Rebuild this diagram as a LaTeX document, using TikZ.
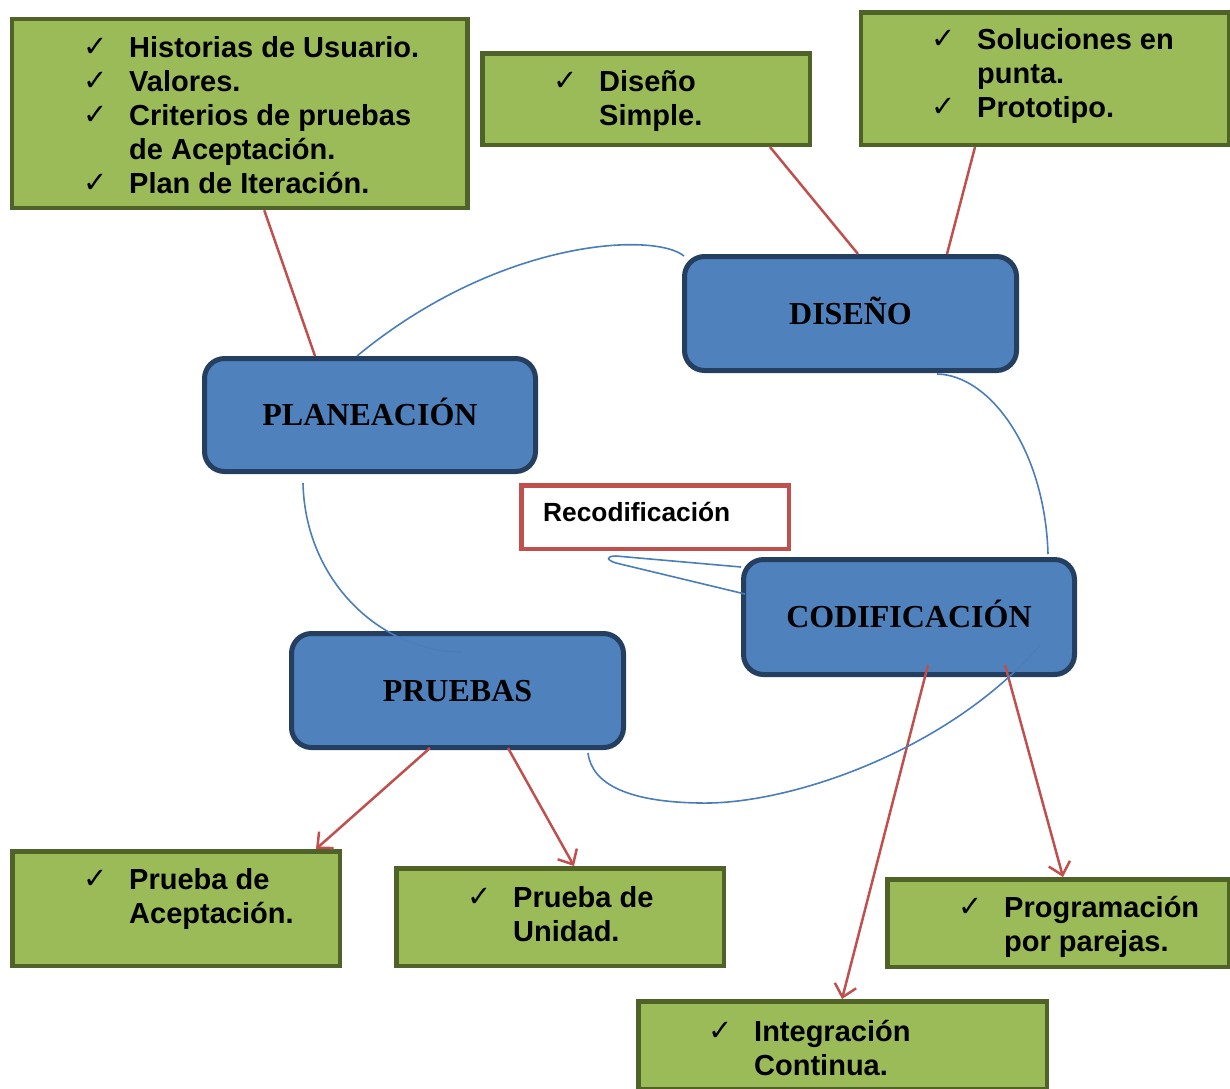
\documentclass[tikz,border=0pt]{standalone}
\usepackage{fontspec}
\setmainfont{Liberation Sans}
\newfontfamily\tnr{Liberation Serif}
\newfontfamily\djv{DejaVu Sans}
\usetikzlibrary{arrows.meta,calc}
\definecolor{gfill}{HTML}{9BBB59}
\definecolor{gline}{HTML}{4F6228}
\definecolor{bfill}{HTML}{4F81BD}
\definecolor{bline}{HTML}{243F60}
\definecolor{redl}{HTML}{C0504D}
\definecolor{bluel}{HTML}{4A7EBB}
\newcommand\ck{\makebox[46pt][l]{\djv\mdseries\fontsize{29}{29}\selectfont\raisebox{1pt}{✓}}}
\begin{document}
\begin{tikzpicture}[x=1pt,y=-1pt,
  gbox/.style={draw=gline,fill=gfill,line width=4.5pt,inner sep=0pt},
  bbox/.style={draw=bline,fill=bfill,line width=5pt,rounded corners=20pt,inner sep=0pt,
    font=\tnr\bfseries\fontsize{32}{32}\selectfont,text height=21pt,text depth=0pt},
  rbox/.style={draw=redl,fill=white,line width=4.5pt,inner sep=0pt},
  txt/.style={inner sep=0pt,font=\bfseries\fontsize{29}{34}\selectfont,anchor=base west},
  redline/.style={draw=redl,line width=2.5pt},
  redarrow/.style={redline,-{Straight Barb[length=12pt,width=22pt]}},
  blueline/.style={draw=bluel,line width=1.6pt}]
\useasboundingbox (0,0) rectangle (1230,1088);

% green boxes
\node[gbox,minimum width=455.5pt,minimum height=189pt] (g1) at (239.75,113.5) {};
\node[gbox,minimum width=327.5pt,minimum height=91.5pt] (g2) at (646,99) {};
\node[gbox,minimum width=368pt,minimum height=132.5pt] (g3) at (1045,78.5) {};
\node[gbox,minimum width=327.5pt,minimum height=114.5pt] (g4) at (176,908.5) {};
\node[gbox,minimum width=327.5pt,minimum height=97.5pt] (g5) at (560,917) {};
\node[gbox,minimum width=341.5pt,minimum height=87.5pt] (g6) at (1058,923) {};
\node[gbox,minimum width=408.5pt,minimum height=87.5pt] (g7) at (842.5,1045) {};

% green box texts
\node[txt] (t1) at (83,57) {\begin{tabular}[t]{@{}l@{}l@{}}
\ck & Historias de Usuario.\\
\ck & Valores.\\
\ck & Criterios de pruebas\\
 & de Aceptación.\\
\ck & Plan de Iteración.\end{tabular}};
\node[txt] (t2) at (553,91) {\begin{tabular}[t]{@{}l@{}l@{}}
\ck & Diseño\\
 & Simple.\end{tabular}};
\node[txt] (t3) at (931,49) {\begin{tabular}[t]{@{}l@{}l@{}}
\ck & Soluciones en\\
 & punta.\\
\ck & Prototipo.\end{tabular}};
\node[txt] (t4) at (83,889) {\begin{tabular}[t]{@{}l@{}l@{}}
\ck & Prueba de\\
 & Aceptación.\end{tabular}};
\node[txt] (t5) at (467,907) {\begin{tabular}[t]{@{}l@{}l@{}}
\ck & Prueba de\\
 & Unidad.\end{tabular}};
\node[txt] (t6) at (958,917) {\begin{tabular}[t]{@{}l@{}l@{}}
\ck & Programación\\
 & por parejas.\end{tabular}};
\node[txt] (t7) at (708,1041) {\begin{tabular}[t]{@{}l@{}l@{}}
\ck & Integración\\
 & Continua.\end{tabular}};

% blue boxes
\node[bbox,minimum width=331pt,minimum height=113pt] (plan) at (370,415) {PLANEACIÓN};
\node[bbox,minimum width=332pt,minimum height=114pt] (dis) at (850.5,313.5) {DISEÑO};
\node[bbox,minimum width=331pt,minimum height=115pt] (cod) at (909,617) {CODIFICACIÓN};
\node[bbox,minimum width=332pt,minimum height=114pt] (pru) at (457.5,690.5) {PRUEBAS};

% recodificacion box
\node[rbox,minimum width=267.5pt,minimum height=63.5pt] (rec) at (655,517) {};
\node[inner sep=0pt,anchor=base west,font=\bfseries\fontsize{26.3}{26.3}\selectfont] (rect) at (543,521) {Recodificación};

% red lines
\draw[redline] ([xshift=24.5pt]g1.south) -- ([xshift=-55pt]plan.north);
\draw[redline] ([xshift=124pt]g2.south) -- ([xshift=7.5pt]dis.north);
\draw[redline] ([xshift=-70pt]g3.south) -- ([xshift=96.5pt]dis.north);

% red arrows
\draw[redarrow] ([xshift=-27.5pt,yshift=2pt]pru.south) -- ([xshift=140pt]g4.north);
\draw[redarrow] ([xshift=50.5pt,yshift=2pt]pru.south) -- ([xshift=14pt]g5.north);
\draw[redarrow] ([xshift=19pt,yshift=12pt]cod.south) -- ([xshift=-0.5pt]g7.north);
\draw[redarrow] ([xshift=96pt,yshift=12pt]cod.south) -- ([xshift=5pt]g6.north);

% blue curves
\draw[blueline] ([xshift=2pt,yshift=-2pt]dis.north west) .. controls (655,232) and (500,238) .. ([xshift=-13pt]plan.north);
\draw[blueline] ([xshift=86.5pt,yshift=-1pt]dis.south) .. controls (990,375) and (1045,450) .. ([xshift=139pt,yshift=3pt]cod.north);
\draw[blueline] ([xshift=131pt,yshift=-28pt]cod.center) .. controls (950,750) and (790,805) .. (700,803)
  .. controls (630,802) and (592,785) .. ([xshift=130.5pt,yshift=-3pt]pru.south);
\draw[blueline] ([xshift=-67pt,yshift=-9pt]plan.south) .. controls (305,580) and (380,652) .. ([xshift=5pt,yshift=-21pt]pru.north);

% callout
\coordinate (tip) at (610,558);
\draw[blueline] ([yshift=50pt]cod.west) -- (616,556) .. controls (606,556) and (606,560) .. (616,563) -- ([xshift=4pt,yshift=23pt]cod.west);
\end{tikzpicture}
\end{document}
